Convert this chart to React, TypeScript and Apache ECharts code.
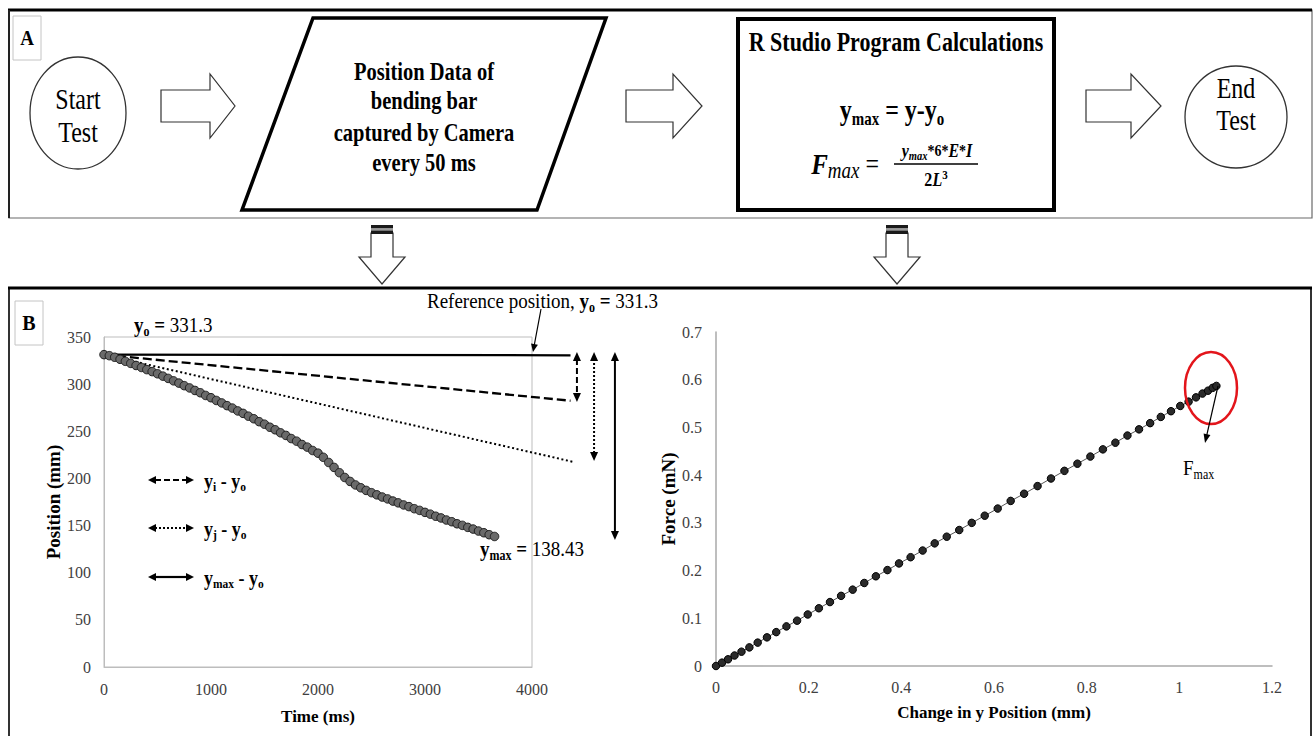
import React, { useEffect, useRef } from 'react';
import * as echarts from 'echarts';

const SERIF = '"Liberation Serif", "Times New Roman", Times, serif';

// ---------- Panel B left: bar position over time (camera frame every 50 ms) ----------
const timeMs = [
  0, 50, 100, 150, 200, 250, 300, 350, 400, 450,
  500, 550, 600, 650, 700, 750, 800, 850, 900, 950,
  1000, 1050, 1100, 1150, 1200, 1250, 1300, 1350, 1400, 1450,
  1500, 1550, 1600, 1650, 1700, 1750, 1800, 1850, 1900, 1950,
  2000, 2050, 2100, 2150, 2200, 2250, 2300, 2350, 2400, 2450,
  2500, 2550, 2600, 2650, 2700, 2750, 2800, 2850, 2900, 2950,
  3000, 3050, 3100, 3150, 3200, 3250, 3300, 3350, 3400, 3450,
  3500, 3550, 3600, 3650,
];
const positionMm = [
  331.3, 330.2, 328.5, 326.4, 324.2, 322.0, 319.8, 317.7, 315.4, 313.3,
  311.0, 308.5, 306.1, 303.5, 301.1, 298.4, 296.0, 293.3, 290.9, 288.0,
  285.6, 282.7, 280.1, 277.2, 274.6, 271.6, 269.0, 266.0, 263.3, 260.2,
  257.5, 254.3, 251.6, 248.4, 245.6, 242.3, 239.5, 236.0, 233.2, 229.6,
  226.8, 222.4, 216.9, 211.7, 206.1, 201.0, 196.8, 193.1, 190.1, 187.3,
  184.9, 182.6, 180.3, 178.3, 176.0, 174.1, 171.9, 170.1, 167.9, 166.1,
  164.0, 162.1, 159.9, 158.1, 155.9, 154.1, 151.9, 150.2, 148.1, 146.3,
  144.2, 142.4, 140.3, 138.43,
];

// reference / deflection lines: start (ms, mm) -> end (ms, mm)
const refStartX = [0, 0, 0];
const refStartY = [331.3, 331.3, 331.3];
const refEndX = [4360, 4360, 4380];
const refEndY = [330.6, 282.4, 217.7];
const refKinds = ['solid', 'dashed', 'dotted'];

// vertical double arrows: x (ms), top, bottom (mm)
const spanX = [4420, 4580, 4775];
const spanTop = [334, 334, 334];
const spanBottom = [281, 218.5, 134.7];
const spanKinds = ['dashed', 'dotted', 'solid'];

// ---------- Panel B right: force vs change in y position ----------
const dyMm = [
  0, 0.013, 0.026, 0.04, 0.055, 0.072, 0.09, 0.11, 0.13, 0.152,
  0.175, 0.198, 0.222, 0.246, 0.27, 0.295, 0.32, 0.345, 0.37, 0.395,
  0.42, 0.446, 0.472, 0.498, 0.525, 0.552, 0.58, 0.608, 0.636, 0.665,
  0.694, 0.723, 0.752, 0.78, 0.808, 0.835, 0.862, 0.888, 0.913, 0.937,
  0.96, 0.982, 1.002, 1.02, 1.036, 1.05, 1.062, 1.072, 1.08,
];
const forceMn = [
  0, 0.007, 0.014, 0.022, 0.03, 0.039, 0.049, 0.06, 0.071, 0.083,
  0.095, 0.108, 0.121, 0.134, 0.147, 0.16, 0.174, 0.188, 0.201, 0.215,
  0.228, 0.242, 0.257, 0.271, 0.285, 0.3, 0.315, 0.33, 0.346, 0.361,
  0.377, 0.393, 0.409, 0.424, 0.439, 0.454, 0.468, 0.483, 0.496, 0.509,
  0.522, 0.534, 0.545, 0.554, 0.563, 0.571, 0.577, 0.583, 0.587,
];

const leftX = { min: 0, max: 4000, interval: 1000 };
const leftY = { min: 0, max: 350, interval: 50 };
const rightX = { min: 0, max: 1.2, interval: 0.2 };
const rightY = { min: 0, max: 0.7, interval: 0.1 };

// ---------- helpers ----------
const tok = (size: number, weight = 'normal', style = 'normal', lh?: number) => ({
  fontFamily: SERIF, fontSize: size, fontWeight: weight, fontStyle: style, fill: '#000',
  lineHeight: lh ?? Math.round(size * 1.2),
});
const subTok = (size: number, weight = 'normal', style = 'normal', lh = 10, va = 'bottom') => ({
  fontFamily: SERIF, fontSize: size, fontWeight: weight, fontStyle: style, fill: '#000',
  lineHeight: lh, verticalAlign: va,
});
const T = (x: number, y: number, text: string, rich: any, align = 'center', sy = 1.15, z = 60) => ({
  type: 'text', x, y, scaleY: sy, z,
  style: {
    text, rich, align, textAlign: align, verticalAlign: 'middle', textVerticalAlign: 'middle',
    fontFamily: SERIF, fill: '#000',
  },
});
const head = (x1: number, y1: number, x2: number, y2: number, len = 8, half = 4) => {
  const dx = x2 - x1, dy = y2 - y1, L = Math.hypot(dx, dy);
  const ux = dx / L, uy = dy / L;
  const bx = x2 - ux * len, by = y2 - uy * len;
  return [[x2, y2], [bx - uy * half, by + ux * half], [bx + uy * half, by - ux * half]];
};
const arrowLine = (x1: number, y1: number, x2: number, y2: number, dash: any, width = 1.5, both = false, len = 8, half = 4, z = 60) => {
  const L = Math.hypot(x2 - x1, y2 - y1);
  const ux = (x2 - x1) / L, uy = (y2 - y1) / L;
  const sx = both ? x1 + ux * (len - 1) : x1;
  const sy = both ? y1 + uy * (len - 1) : y1;
  const els: any[] = [
    { type: 'line', z, shape: { x1: sx, y1: sy, x2: x2 - ux * (len - 1), y2: y2 - uy * (len - 1) }, style: { stroke: '#000', lineWidth: width, lineDash: dash } },
    { type: 'polygon', z, shape: { points: head(x1, y1, x2, y2, len, half) }, style: { fill: '#000' } },
  ];
  if (both) els.push({ type: 'polygon', z, shape: { points: head(x2, y2, x1, y1, len, half) }, style: { fill: '#000' } });
  return els;
};
const blockRight = (x0: number, xh: number, x1: number, cy: number, h: number, H: number) => ({
  type: 'polygon', z: 20,
  shape: { points: [[x0, cy - h], [xh, cy - h], [xh, cy - H], [x1, cy], [xh, cy + H], [xh, cy + h], [x0, cy + h]] },
  style: { fill: '#fff', stroke: '#333', lineWidth: 1.2 },
});
const blockDown = (cx: number) => [
  {
    type: 'polygon', z: 20,
    shape: { points: [[cx - 11, 233], [cx + 11, 233], [cx + 11, 257], [cx + 23, 257], [cx, 284], [cx - 23, 257], [cx - 11, 257]] },
    style: { fill: '#fff', stroke: '#333', lineWidth: 1.2 },
  },
  { type: 'rect', z: 21, shape: { x: cx - 11, y: 225, width: 22, height: 3.5 }, style: { fill: '#1a1a1a' } },
  { type: 'rect', z: 21, shape: { x: cx - 11, y: 228.5, width: 22, height: 2 }, style: { fill: '#9a9a9a' } },
  { type: 'rect', z: 21, shape: { x: cx - 11, y: 230.5, width: 22, height: 3.5 }, style: { fill: '#1a1a1a' } },
];

const plain = (v: number) => String(v);
const axisLabel = { fontFamily: SERIF, fontSize: 16, color: '#404040', formatter: plain };
const axisNameX = { fontFamily: SERIF, fontSize: 17, fontWeight: 'bold' as const, color: '#000' };
const axisNameY = { fontFamily: SERIF, fontSize: 19, fontWeight: 'bold' as const, color: '#000' };

function buildOption(): any {
  const graphic: any[] = [];
  // ---- Panel A frame ----
  graphic.push({ type: 'rect', z: 1, shape: { x: 9, y: 10, width: 1303, height: 208 }, style: { fill: 'none', stroke: '#6a6a6a', lineWidth: 1.2 } });
  graphic.push({ type: 'line', z: 2, shape: { x1: 8, y1: 10, x2: 1312, y2: 10 }, style: { stroke: '#000', lineWidth: 3 } });
  graphic.push({ type: 'line', z: 2, shape: { x1: 9, y1: 10, x2: 9, y2: 218 }, style: { stroke: '#222', lineWidth: 2 } });
  graphic.push({ type: 'rect', z: 3, shape: { x: 13, y: 16, width: 28, height: 44 }, style: { fill: '#fff', stroke: '#c4c4c4', lineWidth: 1 } });
  graphic.push(T(27, 38, '{b|A}', { b: tok(19, 'bold') }, 'center', 1.1));
  // Start
  graphic.push({ type: 'ellipse', z: 10, shape: { cx: 78, cy: 113, rx: 48, ry: 56 }, style: { fill: '#fff', stroke: '#333', lineWidth: 1.3 } });
  graphic.push(T(78, 99, '{r|Start}', { r: tok(24) }, 'center', 1.25));
  graphic.push(T(78, 132, '{r|Test}', { r: tok(24) }, 'center', 1.25));
  graphic.push(blockRight(161, 210, 235, 106, 16, 32));
  // Parallelogram
  graphic.push({ type: 'polygon', z: 10, shape: { points: [[313, 18], [606, 18], [537, 210], [242, 210]] }, style: { fill: '#fff', stroke: '#000', lineWidth: 3.5 } });
  const pb = { b: tok(20.5, 'bold') };
  graphic.push(T(424, 72, '{b|Position Data of}', pb, 'center', 1.2));
  graphic.push(T(424, 101, '{b|bending bar}', pb, 'center', 1.2));
  graphic.push(T(424, 133, '{b|captured by Camera}', pb, 'center', 1.2));
  graphic.push(T(424, 163, '{b|every 50 ms}', pb, 'center', 1.2));
  graphic.push(blockRight(626, 673, 702, 106, 16, 32));
  // R Studio box
  graphic.push({ type: 'rect', z: 10, shape: { x: 738, y: 19, width: 316, height: 191 }, style: { fill: '#fff', stroke: '#000', lineWidth: 4 } });
  graphic.push(T(896, 42, '{b|R Studio Program Calculations}', { b: tok(22, 'bold') }, 'center', 1.2));
  graphic.push(T(892, 110, '{b|y}{s|max}{b| = y-y}{s|o}', { b: tok(24, 'bold', 'normal', 30), s: subTok(15, 'bold', 'normal', 14) }, 'center', 1.2));
  graphic.push(T(885, 164, '{b|F}{s|max}{e| = }', { b: tok(25, 'bold', 'italic', 30), s: subTok(19, 'normal', 'italic', 16), e: tok(24, 'normal', 'normal', 30) }, 'right', 1.2));
  graphic.push({ type: 'line', z: 60, shape: { x1: 894, y1: 164, x2: 978, y2: 164 }, style: { stroke: '#000', lineWidth: 1.6 } });
  graphic.push(T(937, 151, '{i|y}{s|max}{b|*6*}{i|E}{b|*}{i|I}', { i: tok(16, 'bold', 'italic', 20), b: tok(14, 'bold', 'normal', 20), s: subTok(10.5, 'bold', 'italic', 8) }, 'center', 1.15));
  graphic.push(T(936, 180, '{b|2}{i|L}{p|3}', { b: tok(16, 'bold', 'normal', 20), i: tok(16, 'bold', 'italic', 20), p: subTok(11, 'bold', 'normal', 10, 'top') }, 'center', 1.15));
  graphic.push(blockRight(1086, 1131, 1161, 106, 16, 32));
  // End
  graphic.push({ type: 'ellipse', z: 10, shape: { cx: 1236, cy: 117, rx: 51, ry: 51 }, style: { fill: '#fff', stroke: '#333', lineWidth: 1.3 } });
  graphic.push(T(1236, 88, '{r|End}', { r: tok(24) }, 'center', 1.25));
  graphic.push(T(1236, 120, '{r|Test}', { r: tok(24) }, 'center', 1.25));
  // down arrows
  graphic.push(...blockDown(382));
  graphic.push(...blockDown(897));

  // ---- Panel B frame ----
  graphic.push({ type: 'rect', z: 1, shape: { x: 9, y: 288, width: 1302, height: 460 }, style: { fill: 'none', stroke: '#333', lineWidth: 2 } });
  graphic.push({ type: 'line', z: 2, shape: { x1: 8, y1: 288, x2: 1312, y2: 288 }, style: { stroke: '#000', lineWidth: 3 } });
  graphic.push({ type: 'rect', z: 3, shape: { x: 15, y: 301, width: 28, height: 44 }, style: { fill: '#fff', stroke: '#c4c4c4', lineWidth: 1 } });
  graphic.push(T(29, 323, '{b|B}', { b: tok(20, 'bold') }, 'center', 1.1));

  const ann = { b: tok(19, 'bold', 'normal', 23), r: tok(19, 'normal', 'normal', 23), s: subTok(12, 'bold', 'normal', 10) };
  graphic.push(T(134, 325, '{b|y}{s|o}{b| = }{r|331.3}', ann, 'left', 1.15));
  graphic.push(T(427, 301, '{r|Reference position, }{b|y}{s|o}{b| = }{r|331.3}', ann, 'left', 1.15));
  graphic.push(T(480, 549, '{b|y}{s|max}{b| = }{r|138.43}', ann, 'left', 1.15));
  graphic.push(...arrowLine(541, 309, 533, 352, null, 1.2, false, 8, 3.5));

  // legend arrows (inside left plot)
  const legY = [480, 528, 577];
  const legDash: any[] = [[6, 3], [2, 2], null];
  const legText = ['{b|y}{s|i}{b| - y}{s|o}', '{b|y}{s|j}{b| - y}{s|o}', '{b|y}{s|max}{b| - y}{s|o}'];
  const legRich = { b: tok(18, 'bold', 'normal', 22), s: subTok(11.5, 'bold', 'normal', 10) };
  legY.forEach((y, i) => {
    graphic.push(...arrowLine(148, y, 194, y, legDash[i], 2.2, true, 8, 4));
    graphic.push(T(204, y + 1, legText[i], legRich, 'left', 1.15));
  });

  // Right chart annotations
  graphic.push({ type: 'ellipse', z: 100, shape: { cx: 1211, cy: 388, rx: 26, ry: 36 }, style: { fill: 'none', stroke: '#e3151b', lineWidth: 2.5 } });
  graphic.push(...arrowLine(1218, 386, 1205, 443, null, 1.2, false, 9, 3.5, 100));
  graphic.push(T(1183, 468, '{r|F}{s|max}', { r: tok(19, 'normal', 'normal', 23), s: subTok(12, 'normal', 'normal', 10) }, 'left', 1.15));

  return {
    animation: false,
    backgroundColor: '#fff',
    graphic,
    grid: [
      { left: 104, top: 337, width: 428, height: 330, show: true, borderColor: '#bdbdbd', borderWidth: 1, backgroundColor: 'transparent' },
      { left: 716, top: 332, width: 556, height: 334 },
    ],
    xAxis: [
      {
        type: 'value', gridIndex: 0, ...leftX,
        axisLine: { show: true, lineStyle: { color: '#bdbdbd', width: 1 } }, axisTick: { show: false }, splitLine: { show: false },
        axisLabel: { ...axisLabel, margin: 14 },
        name: 'Time (ms)', nameLocation: 'middle', nameGap: 41, nameTextStyle: axisNameX,
      },
      {
        type: 'value', gridIndex: 1, ...rightX,
        axisLine: { show: true, lineStyle: { color: '#a8a8a8', width: 1.5 } }, axisTick: { show: false }, splitLine: { show: false },
        axisLabel: { ...axisLabel, margin: 13 },
        name: 'Change in y Position (mm)', nameLocation: 'middle', nameGap: 38, nameTextStyle: axisNameX,
      },
    ],
    yAxis: [
      {
        type: 'value', gridIndex: 0, ...leftY,
        axisLine: { show: true, lineStyle: { color: '#bdbdbd', width: 1 } }, axisTick: { show: false }, splitLine: { show: false },
        axisLabel: { ...axisLabel, margin: 13 },
        name: 'Position (mm)', nameLocation: 'middle', nameGap: 39, nameRotate: 90, nameTextStyle: axisNameY,
      },
      {
        type: 'value', gridIndex: 1, ...rightY,
        axisLine: { show: true, lineStyle: { color: '#a8a8a8', width: 1.5 } }, axisTick: { show: false }, splitLine: { show: false },
        axisLabel: { ...axisLabel, margin: 14 },
        name: 'Force (mN)', nameLocation: 'middle', nameGap: 33, nameRotate: 90, nameTextStyle: axisNameY,
      },
    ],
    series: [
      {
        type: 'custom', xAxisIndex: 0, yAxisIndex: 0, clip: false, z: 3,
        data: refStartX.map((x, i) => [x, refStartY[i], refEndX[i], refEndY[i]]),
        encode: { x: [0, 2], y: [1, 3] },
        renderItem: (params: any, api: any) => {
          const kind = refKinds[params.dataIndex];
          const p1 = api.coord([api.value(0), api.value(1)]);
          const p2 = api.coord([api.value(2), api.value(3)]);
          const dash = kind === 'dashed' ? [9, 4] : kind === 'dotted' ? [2, 2.6] : null;
          const w = kind === 'dotted' ? 2 : kind === 'dashed' ? 2.3 : 2.2;
          return { type: 'line', shape: { x1: p1[0], y1: p1[1], x2: p2[0], y2: p2[1] }, style: { stroke: '#000', lineWidth: w, lineDash: dash } };
        },
      },
      {
        type: 'custom', xAxisIndex: 0, yAxisIndex: 0, clip: false, z: 4,
        data: spanX.map((x, i) => [x, spanTop[i], spanBottom[i]]),
        encode: { x: 0, y: [1, 2] },
        renderItem: (params: any, api: any) => {
          const kind = spanKinds[params.dataIndex];
          const p1 = api.coord([api.value(0), api.value(1)]);
          const p2 = api.coord([api.value(0), api.value(2)]);
          const dash = kind === 'dashed' ? [6, 3] : kind === 'dotted' ? [2, 2] : null;
          return {
            type: 'group',
            children: [
              { type: 'line', shape: { x1: p1[0], y1: p1[1] + 7, x2: p2[0], y2: p2[1] - 7 }, style: { stroke: '#000', lineWidth: 2, lineDash: dash } },
              { type: 'polygon', shape: { points: [[p1[0], p1[1]], [p1[0] - 4, p1[1] + 9], [p1[0] + 4, p1[1] + 9]] }, style: { fill: '#000' } },
              { type: 'polygon', shape: { points: [[p2[0], p2[1]], [p2[0] - 4, p2[1] - 9], [p2[0] + 4, p2[1] - 9]] }, style: { fill: '#000' } },
            ],
          };
        },
      },
      {
        type: 'line', xAxisIndex: 0, yAxisIndex: 0, z: 5, symbol: 'circle', symbolSize: 8.5, showAllSymbol: true,
        data: timeMs.map((t, i) => [t, positionMm[i]]),
        itemStyle: { color: '#6a6a6a', borderColor: '#1e1e1e', borderWidth: 1 },
        lineStyle: { color: '#444', width: 1 },
      },
      {
        type: 'line', xAxisIndex: 1, yAxisIndex: 1, z: 5, symbol: 'circle', symbolSize: 7.5, showAllSymbol: true,
        data: dyMm.map((d, i) => [d, forceMn[i]]),
        itemStyle: { color: '#2a2a2a', borderColor: '#000', borderWidth: 1 },
        lineStyle: { color: '#555', width: 1 },
      },
    ],
  };
}

export default function App() {
  const ref = useRef<HTMLDivElement>(null);
  useEffect(() => {
    if (!ref.current) return;
    const chart = echarts.init(ref.current, undefined, { renderer: 'svg' });
    chart.setOption(buildOption());
    return () => chart.dispose();
  }, []);
  return (
    <div
      ref={ref}
      style={{ position: 'absolute', left: 0, top: 0, width: 1314, height: 736, background: '#fff' }}
    />
  );
}
